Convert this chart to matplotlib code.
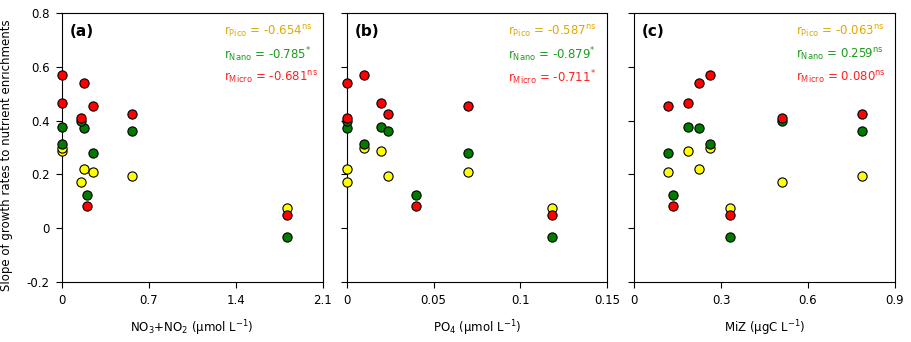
import matplotlib
matplotlib.use("Agg")
import matplotlib.pyplot as plt
import numpy as np

plt.rcParams['font.family'] = ['DejaVu Sans']
plt.rcParams['mathtext.default'] = 'regular'

# slopes per station (8 stations)
pico = [0.209, np.nan, 0.286, 0.220, 0.300, 0.075, 0.173, 0.195]
nano = [0.279, 0.123, 0.375, 0.372, 0.312, -0.033, 0.400, 0.360]
micro = [0.454, 0.081, 0.464, 0.538, 0.568, 0.049, 0.409, 0.423]

# environmental drivers
no3_no2 = [0.249, 0.204, 0.0, 0.174, 0.0, 1.81, 0.153, 0.563]
po4 = [0.070, 0.040, 0.020, 0.0, 0.010, 0.118, 0.0, 0.024]
miz = [0.115, 0.135, 0.187, 0.225, 0.262, 0.331, 0.509, 0.786]

panels = ["(a)", "(b)", "(c)"]
xlabels = ["NO$_3$+NO$_2$ (µmol L$^{-1}$)", "PO$_4$ (µmol L$^{-1}$)", "MiZ (µgC L$^{-1}$)"]
xticks = [[0, 0.7, 1.4, 2.1], [0, 0.05, 0.1, 0.15], [0, 0.3, 0.6, 0.9]]
r_pico = ["-0.654$^{ns}$", "-0.587$^{ns}$", "-0.063$^{ns}$"]
r_nano = ["-0.785$^{*}$", "-0.879$^{*}$", "0.259$^{ns}$"]
r_micro = ["-0.681$^{ns}$", "-0.711$^{*}$", "0.080$^{ns}$"]

c_pico = "#FFFF00"
c_nano = "#007A00"
c_micro = "#FF0000"
txt_pico = "#E0A800"
txt_nano = "#1E9A1E"
txt_micro = "#FF2020"

fig = plt.figure(figsize=(9.11, 3.42), dpi=100)
lefts = [62 / 911, 346.7 / 911, 634.3 / 911]
w = 260.5 / 911
bottom = 1 - 282 / 342
h = 269 / 342

xs = [no3_no2, po4, miz]
for i in range(3):
    ax = fig.add_axes([lefts[i], bottom, w, h])
    ax.scatter(xs[i], pico, s=44, c=c_pico, edgecolors="black", linewidths=0.8, zorder=3, clip_on=False)
    ax.scatter(xs[i], nano, s=44, c=c_nano, edgecolors="black", linewidths=0.8, zorder=4, clip_on=False)
    ax.scatter(xs[i], micro, s=44, c=c_micro, edgecolors="black", linewidths=0.8, zorder=5, clip_on=False)
    ax.set_xlim(xticks[i][0], xticks[i][-1])
    ax.set_ylim(-0.2, 0.8)
    ax.set_xticks(xticks[i])
    ax.set_xticklabels(["%g" % t for t in xticks[i]])
    ax.set_yticks([-0.2, 0, 0.2, 0.4, 0.6, 0.8])
    if i == 0:
        ax.set_yticklabels(["%g" % t for t in [-0.2, 0, 0.2, 0.4, 0.6, 0.8]])
        ax.set_ylabel("Slope of growth rates to nutrient enrichments", fontsize=8.5)
        ax.yaxis.set_label_coords(-0.19, 0.47)
    else:
        ax.set_yticklabels([])
    ax.tick_params(direction="out", length=4, width=0.8, labelsize=8.5, pad=5)
    for sp in ax.spines.values():
        sp.set_linewidth(0.8)
    ax.set_xlabel(xlabels[i], fontsize=8.5, labelpad=8)
    ax.text(0.03, 0.93, panels[i], transform=ax.transAxes, fontsize=11,
            fontweight="bold", va="center", ha="left")
    ax.text(0.62, 0.93, "r$_{Pico}$ = " + r_pico[i], transform=ax.transAxes,
            fontsize=8.5, color=txt_pico, va="center")
    ax.text(0.62, 0.845, "r$_{Nano}$ = " + r_nano[i], transform=ax.transAxes,
            fontsize=8.5, color=txt_nano, va="center")
    ax.text(0.62, 0.76, "r$_{Micro}$ = " + r_micro[i], transform=ax.transAxes,
            fontsize=8.5, color=txt_micro, va="center")

fig.savefig("out.png", dpi=100)
